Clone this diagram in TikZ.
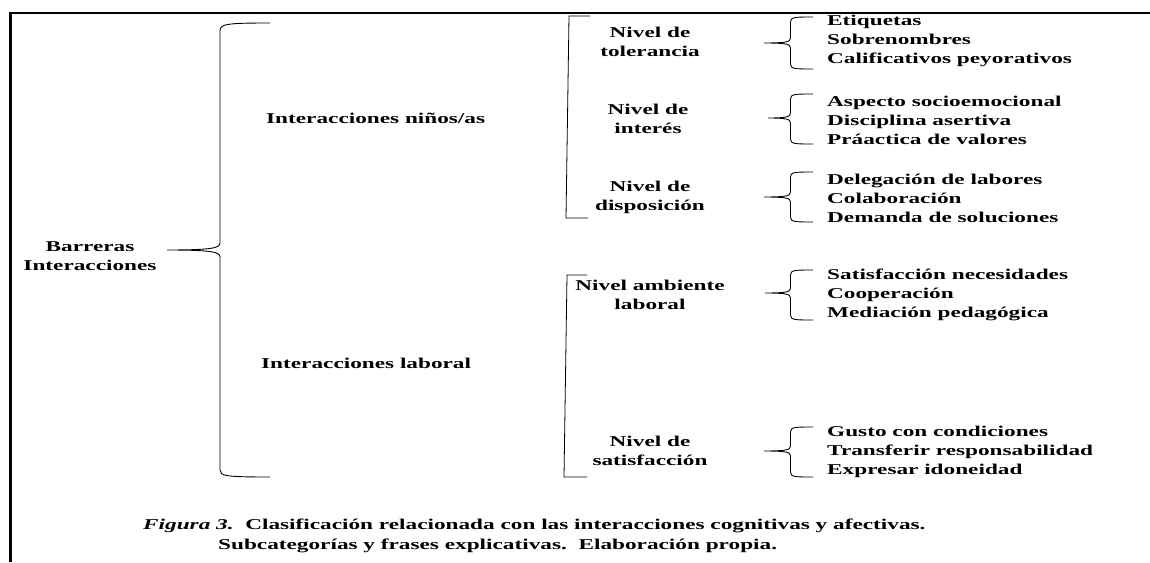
\documentclass[tikz,border=0pt]{standalone}
\usepackage{fontspec}
\setmainfont{Liberation Serif}[FakeStretch=1.55]
\begin{document}
\begin{tikzpicture}[x=1pt,y=-1pt,
  lbl/.style={font=\fontsize{15}{19}\selectfont\bfseries, inner sep=0pt, align=center},
  items/.style={font=\fontsize{15}{19}\selectfont\bfseries, inner sep=0pt, align=left, anchor=west},
  brace/.style={line width=0.9pt},
  bracket/.style={line width=0.8pt},
  frame/.style={line width=2.4pt}]
\useasboundingbox (0,0) rectangle (1150,562);
% outer frame (top and left edges)
\draw[frame] (10.5,562) -- (10.5,13) -- (1150,13);

% labels
\node[lbl] (root) at (90,256) {Barreras\\Interacciones};
\node[lbl, anchor=west] (kids) at (266,118) {Interacciones niños/as};
\node[lbl, anchor=west] (work) at (261,363) {Interacciones laboral};

\node[lbl] (tol) at (650,42) {Nivel de\\tolerancia};
\node[lbl] (int) at (648,119) {Nivel de\\interés};
\node[lbl] (dis) at (650,197) {Nivel de\\disposición};
\node[lbl] (amb) at (650,295) {Nivel ambiente\\laboral};
\node[lbl] (sat) at (650,451) {Nivel de\\satisfacción};

\node[items] (i1) at (827,41) {Etiquetas\\Sobrenombres\\Calificativos peyorativos};
\node[items] (i2) at (827,120) {Aspecto socioemocional\\Disciplina asertiva\\Práactica de valores};
\node[items] (i3) at (827,198) {Delegación de labores\\Colaboración\\Demanda de soluciones};
\node[items] (i4) at (827,295) {Satisfacción necesidades\\Cooperación\\Mediación pedagógica};
\node[items] (i5) at (827,452) {Gusto con condiciones\\Transferir responsabilidad\\Expresar idoneidad};

% main curly brace
\coordinate (rt) at (167,250);
\draw[brace] (270,23) .. controls (226,23) and (220,24) .. (220,31) -- (220,243)
  .. controls (220,248) and (212,250) .. (rt)
  .. controls (212,250) and (220,252) .. (220,257) -- (220,470)
  .. controls (220,476) and (226,477) .. (270,477);

% square brackets for the two branches
\draw[bracket] (590,16) -- (569,16) -- (566,218) -- (588,218);
\draw[bracket] (587,275) -- (567,275) -- (564,477) -- (587,477);

% small curly braces
\foreach \tip/\top/\bot/\tx in {43/17/69/764, 118/94/144/768, 197/172/222/764, 293/270/320/765, 451/427/477/764}{
  \draw[brace] (813,\top) .. controls (795,\top) and (790.5,\top) .. (790.5,\top+5)
    -- (790.5,\tip-5) .. controls (790.5,\tip-1) and (786,\tip) .. (\tx,\tip)
    (\tx,\tip) .. controls (786,\tip) and (790.5,\tip+1) .. (790.5,\tip+5)
    -- (790.5,\bot-5) .. controls (790.5,\bot) and (795,\bot) .. (813,\bot);
}

% caption
\node[font=\fontsize{15}{19}\selectfont\bfseries, inner sep=0pt, anchor=base west] (cap1) at (143,529)
  {\textit{Figura 3.}\ \ Clasificación relacionada con las interacciones cognitivas y afectivas.};
\node[font=\fontsize{15}{19}\selectfont\bfseries, inner sep=0pt, anchor=base west] (cap2) at (218,549)
  {Subcategorías y frases explicativas.\ \ Elaboración propia.};
\end{tikzpicture}
\end{document}
